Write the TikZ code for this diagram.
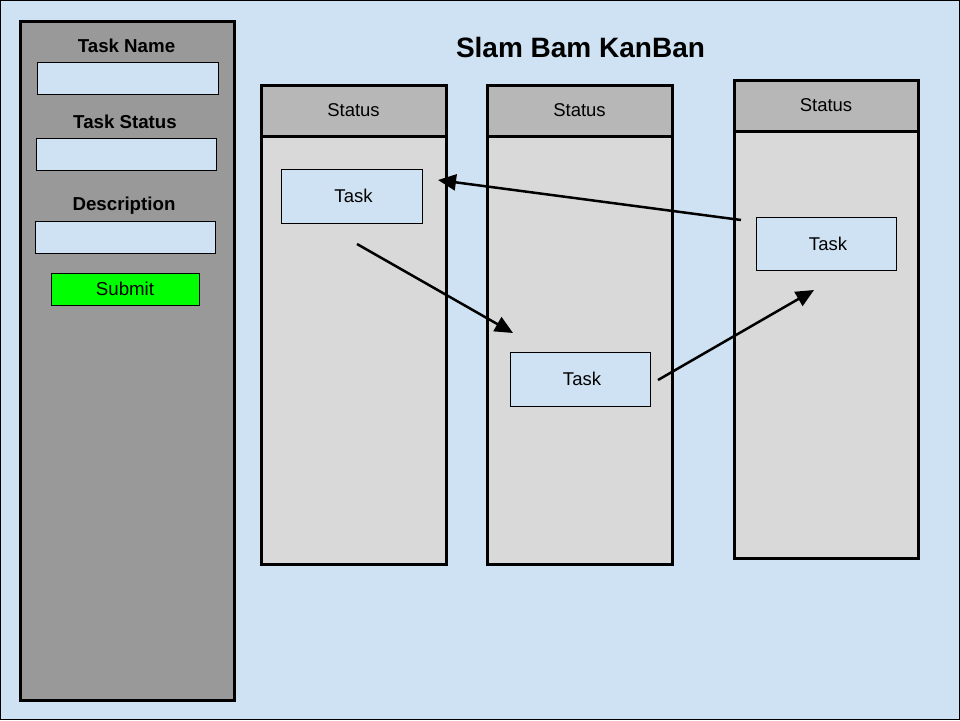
\documentclass[tikz,border=0pt]{standalone}
\usepackage{fontspec}
\setmainfont{Liberation Sans}
\usetikzlibrary{arrows.meta}
\definecolor{bgblue}{HTML}{CFE2F3}
\definecolor{panelgray}{HTML}{999999}
\definecolor{headgray}{HTML}{B7B7B7}
\definecolor{bodygray}{HTML}{D9D9D9}
\definecolor{subgreen}{HTML}{00FF00}
\tikzset{
  field/.style={draw=black, line width=1pt, fill=bgblue, inner sep=0pt},
  label/.style={font=\fontsize{18.7}{21}\selectfont\bfseries, inner sep=0pt},
  colbody/.style={draw=black, line width=3pt, fill=bodygray, inner sep=0pt},
  colhead/.style={draw=black, line width=3pt, fill=headgray, inner sep=0pt, font=\fontsize{18.5}{21}\selectfont},
  taskbox/.style={draw=black, line width=1pt, fill=bgblue, inner sep=0pt, minimum width=141pt, minimum height=54pt, font=\fontsize{18.5}{21}\selectfont},
  flow/.style={line width=2.5pt, -{Triangle[length=18pt,width=16pt]}}
}
\begin{document}
\begin{tikzpicture}[x=1pt,y=-1pt]
\useasboundingbox (0,0) rectangle (960,720);
\node[draw=black, line width=1pt, fill=bgblue, minimum width=959pt, minimum height=719pt, inner sep=0pt] (bg) at (480,360) {};
% left panel
\node[draw=black, line width=3pt, fill=panelgray, minimum width=214pt, minimum height=679pt, inner sep=0pt] (panel) at (127,360.5) {};
\node[label] (lname) at (126.5,46) {Task Name};
\node[field, minimum width=181pt, minimum height=32pt] (fname) at (127.5,78) {};
\node[label] (lstatus) at (125,122) {Task Status};
\node[field, minimum width=180pt, minimum height=32pt] (fstatus) at (126,154) {};
\node[label] (ldesc) at (124,205.5) {Description};
\node[field, minimum width=180pt, minimum height=32pt] (fdesc) at (125,237) {};
\node[draw=black, line width=1pt, fill=subgreen, minimum width=148pt, minimum height=32pt, inner sep=0pt, font=\fontsize{18.7}{21}\selectfont] (submit) at (125,289) {Submit};
% title
\node[font=\fontsize{28}{32}\selectfont\bfseries, inner sep=0pt] (title) at (580.5,47) {Slam Bam KanBan};
% columns
\node[colbody, minimum width=185pt, minimum height=479pt] (c1) at (353.5,324.5) {};
\node[colhead, minimum width=185pt, minimum height=51pt] (h1) at (353.5,110.5) {Status};
\node[colbody, minimum width=185pt, minimum height=479pt] (c2) at (579.5,324.5) {};
\node[colhead, minimum width=185pt, minimum height=51pt] (h2) at (579.5,110.5) {Status};
\node[colbody, minimum width=184pt, minimum height=478pt] (c3) at (826,319.5) {};
\node[colhead, minimum width=184pt, minimum height=51pt] (h3) at (826,105.5) {Status};
% tasks
\node[taskbox] (t1) at (351.5,196) {\hspace*{4pt}Task};
\node[taskbox, minimum width=140pt] (t2) at (580,379) {\hspace*{4pt}Task};
\node[taskbox, minimum width=140pt, minimum height=53pt] (t3) at (826,243.5) {\hspace*{4pt}Task};
% arrow ends
\coordinate (a1s) at (741,220);
\coordinate (a1e) at (438,180);
\coordinate (a2s) at (357,244);
\coordinate (a2e) at (513,333);
\coordinate (a3s) at (658,380);
\coordinate (a3e) at (814,290);
\draw[flow] (a1s) -- (a1e);
\draw[flow] (a2s) -- (a2e);
\draw[flow] (a3s) -- (a3e);
\end{tikzpicture}
\end{document}
